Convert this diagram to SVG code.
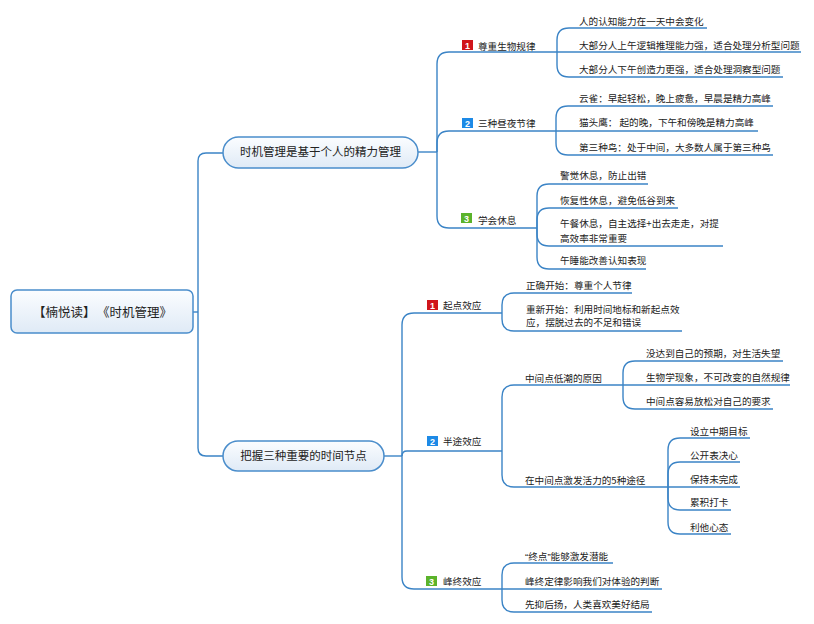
<svg xmlns="http://www.w3.org/2000/svg" width="814" height="624" viewBox="0 0 814 624">
<defs>
<linearGradient id="g" x1="0" y1="0" x2="0" y2="1">
<stop offset="0" stop-color="#fbfdff"/>
<stop offset="1" stop-color="#dfeaf6"/>
</linearGradient>
<style>
.box{fill:url(#g);stroke:#4a8dcb;stroke-width:1.5}
.c path{fill:none;stroke:#3b84c6;stroke-width:1.4}
text{font-family:"Noto Sans CJK SC","Liberation Sans",sans-serif;fill:#222}
.t{font-size:9.6px}
.m{font-size:11.5px;text-anchor:middle}
.r{font-size:12.5px}
.q{font-family:"Liberation Sans",sans-serif}
.ic{font-size:9px;font-weight:bold;fill:#fff;text-anchor:middle;font-family:"Liberation Sans",sans-serif}
</style>
</defs>
<rect width="814" height="624" fill="#fff"/>
<g class="c" id="connectors">
<path d="M193,312 H198"/>
<path d="M198,312 V161 Q198,153 206,153 H223"/>
<path d="M198,312 V448 Q198,456 206,456 H223"/>
<path d="M418,152 H437"/>
<path d="M437,152 V64 Q437,52 449,52 H557"/>
<path d="M437,152 V143 Q437,131 449,131 H556"/>
<path d="M437,152 V216 Q437,228 449,228 H537"/>
<path d="M557,52 V40 Q557,28 569,28 H707"/>
<path d="M557,52 H801"/>
<path d="M557,52 V65 Q557,77 569,77 H783"/>
<path d="M556,131 V118 Q556,106 568,106 H773"/>
<path d="M556,131 H758"/>
<path d="M556,131 V143 Q556,155 568,155 H773"/>
<path d="M537,228 V196 Q537,184 549,184 H648"/>
<path d="M537,228 V220 Q537,208 549,208 H678"/>
<path d="M537,228 V234 Q537,246 549,246 H723"/>
<path d="M537,228 V257 Q537,269 549,269 H646"/>
<path d="M384,456 H402"/>
<path d="M402,456 V325 Q402,313 414,313 H502"/>
<path d="M402,456 Q402,451 407,451 H502"/>
<path d="M402,456 V577 Q402,589 414,589 H502"/>
<path d="M502,313 V305 Q502,293 514,293 H632"/>
<path d="M502,313 V319 Q502,331 514,331 H682"/>
<path d="M502,451 V397 Q502,385 514,385 H623"/>
<path d="M502,451 V475 Q502,487 514,487 H668"/>
<path d="M623,385 V373 Q623,361 635,361 H783"/>
<path d="M623,385 H790"/>
<path d="M623,385 V397 Q623,409 635,409 H773"/>
<path d="M668,487 V450 Q668,438 680,438 H750"/>
<path d="M668,487 V474 Q668,462 680,462 H740"/>
<path d="M668,487 H740"/>
<path d="M668,487 V498 Q668,510 680,510 H731"/>
<path d="M668,487 V522 Q668,534 680,534 H731"/>
<path d="M502,589 V575 Q502,563 514,563 H613"/>
<path d="M502,589 H662"/>
<path d="M502,589 V600 Q502,612 514,612 H652"/>
</g>
<g id="root">
<rect class="box" x="11" y="290" width="182" height="43" rx="6"/>
<text class="r" x="33" y="316.5">【楠悦读】</text>
<text class="r" x="97" y="316.5">《时机管理》</text>
</g>
<g id="main1">
<rect class="box" x="223" y="137" width="195" height="31" rx="15.5"/>
<text class="m" x="320.5" y="156">时机管理是基于个人的精力管理</text>
</g>
<g id="main2">
<rect class="box" x="223" y="441" width="161" height="30" rx="15"/>
<text class="m" x="303.5" y="460">把握三种重要的时间节点</text>
</g>
<g id="b1">
<rect x="462" y="40" width="11" height="10" fill="#d0151b"/>
<text class="ic" x="467.5" y="48.5">1</text>
<text class="t" x="478" y="49.5">尊重生物规律</text>
</g>
<g id="b1c">
<text class="t" x="579" y="24.5">人的认知能力在一天中会变化</text>
<text class="t" x="579" y="48.5">大部分人上午逻辑推理能力强，适合处理分析型问题</text>
<text class="t" x="579" y="72.5">大部分人下午创造力更强，适合处理洞察型问题</text>
</g>
<g id="b2">
<rect x="462" y="118" width="11" height="10" fill="#1d8ae6"/>
<text class="ic" x="467.5" y="126.5">2</text>
<text class="t" x="478" y="126.5">三种昼夜节律</text>
</g>
<g id="b2c">
<text class="t" x="579" y="101.5">云雀：早起轻松，晚上疲惫，早晨是精力高峰</text>
<text class="t" x="579" y="125.5">猫头鹰： 起的晚，下午和傍晚是精力高峰</text>
<text class="t" x="579" y="150.5">第三种鸟：处于中间，大多数人属于第三种鸟</text>
</g>
<g id="b3">
<rect x="461" y="213" width="11" height="10" fill="#5bb32b"/>
<text class="ic" x="466.5" y="221.5">3</text>
<text class="t" x="478" y="223.5">学会休息</text>
</g>
<g id="b3c">
<text class="t" x="560" y="178.5">警觉休息，防止出错</text>
<text class="t" x="560" y="203.5">恢复性休息，避免低谷到来</text>
<text class="t" x="560" y="227">午餐休息，自主选择+出去走走，对提</text>
<text class="t" x="560" y="241.5">高效率非常重要</text>
<text class="t" x="560" y="263.5">午睡能改善认知表现</text>
</g>
<g id="s1">
<rect x="427" y="300" width="11" height="10" fill="#d0151b"/>
<text class="ic" x="432.5" y="308.5">1</text>
<text class="t" x="443" y="308.5">起点效应</text>
</g>
<g id="s1c">
<text class="t" x="526" y="288.5">正确开始：尊重个人节律</text>
<text class="t" x="526" y="312.5">重新开始：利用时间地标和新起点效</text>
<text class="t" x="526" y="326">应，摆脱过去的不足和错误</text>
</g>
<g id="s2">
<rect x="427" y="436" width="11" height="10" fill="#1d8ae6"/>
<text class="ic" x="432.5" y="444.5">2</text>
<text class="t" x="443" y="444.5">半途效应</text>
</g>
<g id="s2a">
<text class="t" x="525" y="381.5">中间点低潮的原因</text>
<text class="t" x="646" y="356.5">没达到自己的预期，对生活失望</text>
<text class="t" x="646" y="380.5">生物学现象，不可改变的自然规律</text>
<text class="t" x="646" y="404.5">中间点容易放松对自己的要求</text>
</g>
<g id="s2b">
<text class="t" x="525" y="483.5">在中间点激发活力的5种途径</text>
<text class="t" x="690" y="434.5">设立中期目标</text>
<text class="t" x="690" y="458.5">公开表决心</text>
<text class="t" x="690" y="482.5">保持未完成</text>
<text class="t" x="690" y="505.5">累积打卡</text>
<text class="t" x="690" y="530.5">利他心态</text>
</g>
<g id="s3">
<rect x="426" y="576" width="11" height="10" fill="#5bb32b"/>
<text class="ic" x="431.5" y="584.5">3</text>
<text class="t" x="443" y="584.5">峰终效应</text>
</g>
<g id="s3c">
<text class="t" x="525" y="559.5"><tspan class="q">“</tspan>终点<tspan class="q">”</tspan>能够激发潜能</text>
<text class="t" x="525" y="584.5">峰终定律影响我们对体验的判断</text>
<text class="t" x="525" y="607.5">先抑后扬，人类喜欢美好结局</text>
</g>
</svg>
